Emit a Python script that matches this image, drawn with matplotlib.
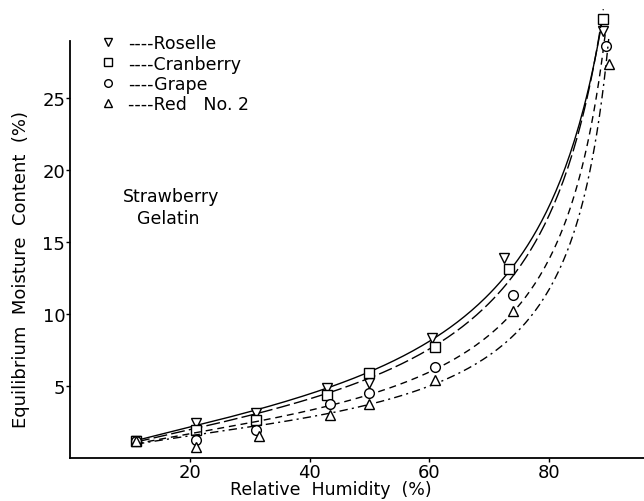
import numpy as np
import matplotlib.pyplot as plt
from matplotlib.lines import Line2D

# sorption data, strawberry gelatin with four colorants
rh_roselle = [11, 21, 31, 43, 50, 60.5, 72.5, 89]
emc_roselle = [1.2, 2.4, 3.1, 4.85, 5.2, 8.3, 13.9, 29.7]

rh_cranberry = [11, 21, 31, 43, 50, 61, 73.3, 89.1]
emc_cranberry = [1.2, 1.9, 2.65, 4.4, 5.9, 7.7, 13.1, 30.5]

rh_grape = [11, 21, 31, 43.5, 50, 61, 74, 89.5]
emc_grape = [1.15, 1.27, 1.95, 3.75, 4.5, 6.3, 11.3, 28.6]

rh_red = [11, 21, 31.5, 43.5, 50, 61, 74, 90]
emc_red = [1.15, 0.76, 1.5, 3.0, 3.75, 5.4, 10.2, 27.4]

names = ["Roselle", "Cranberry", "Grape", "Red   No. 2"]
markers = ["v", "s", "o", "^"]
styles = ["-", (0, (10, 3)), (0, (5, 3.5)), (0, (6, 3, 1.5, 3))]

plt.rcParams["font.family"] = "DejaVu Sans"

fig = plt.figure(figsize=(6.44, 5.02), dpi=100)
ax = fig.add_axes([0.109, 0.086, 0.891, 0.914])

series = [(rh_roselle, emc_roselle), (rh_cranberry, emc_cranberry),
          (rh_grape, emc_grape), (rh_red, emc_red)]

for (rh, emc), m, ls in zip(series, markers, styles):
    aw = np.array(rh) / 100.0
    emc = np.array(emc)
    # GAB isotherm in its quadratic form: aw/M = a*aw^2 + b*aw + c,
    # weighted so that every point counts by its relative error
    coef = np.polyfit(aw, aw / emc, 2, w=emc / aw)
    xs = np.linspace(aw.min(), aw.max(), 200)
    ax.plot(xs * 100, xs / np.polyval(coef, xs), color="black", lw=1.0, ls=ls)
    ax.plot(rh, emc, ls="none", marker=m, ms=7, mfc="white", mec="black", mew=1.0)

handles = [Line2D([0], [0], ls="none", marker=m, ms=5.5, mfc="white",
                  mec="black", mew=1.0) for m in markers]
ax.legend(handles, ["----" + n for n in names], loc="upper left",
          bbox_to_anchor=(0.035, 0.95), frameon=False, fontsize=12.5,
          handlelength=0.6, handletextpad=0.9, labelspacing=0.14,
          borderaxespad=0.3)

ax.text(8.8, 18.2, "Strawberry", fontsize=12.5, va="center", ha="left")
ax.text(11.2, 16.7, "Gelatin", fontsize=12.5, va="center", ha="left")

ax.set_xlim(0, 95.9)
ax.set_ylim(0, 31.9)
ax.set_xticks([20, 40, 60, 80])
ax.set_yticks([5, 10, 15, 20, 25])
ax.tick_params(direction="out", length=3, width=1, labelsize=13, pad=0.5)
ax.spines["top"].set_visible(False)
ax.spines["right"].set_visible(False)
ax.spines["left"].set_bounds(0, 29)
ax.spines["left"].set_linewidth(1.3)
ax.spines["bottom"].set_linewidth(1.3)

ax.set_xlabel("Relative  Humidity  (%)", fontsize=12.5)
ax.set_ylabel("Equilibrium  Moisture  Content  (%)", fontsize=13)
ax.xaxis.set_label_coords(0.455, -0.048)
ax.yaxis.set_label_coords(-0.07, 0.413)

fig.savefig("out.png", dpi=100)
